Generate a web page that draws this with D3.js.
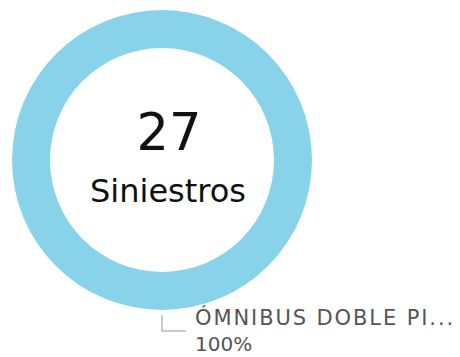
<!DOCTYPE html>
<html>
<head>
<meta charset="utf-8">
<script src="https://cdn.jsdelivr.net/npm/d3@7"></script>
<style>
  html, body { margin: 0; padding: 0; background: #fff; }
  svg { display: block; }
  text { font-family: "DejaVu Sans", "Noto Sans", sans-serif; }
</style>
</head>
<body>
<svg id="chart" width="460" height="357"></svg>
<script>
// Vehicle types involved and their claim counts
const categories = ["ÓMNIBUS DOBLE PISO"];
const values = [27];
const colors = ["#89d3ea"];
const centerLabel = "Siniestros";
const maxLabelChars = 16;

const svg = d3.select("#chart");
const cx = 162, cy = 160;
const outerR = 150, innerR = 112;

const total = d3.sum(values);
const data = categories.map((c, i) => ({ name: c, value: values[i], color: colors[i] }));

const pie = d3.pie().value(d => d.value).sort(null);
const arc = d3.arc().innerRadius(innerR).outerRadius(outerR);

const g = svg.append("g").attr("transform", `translate(${cx},${cy})`);

g.selectAll("path.slice")
  .data(pie(data))
  .join("path")
  .attr("class", "slice")
  .attr("d", arc)
  .attr("fill", d => d.data.color);

// Center total
g.append("text")
  .attr("x", 7).attr("y", -10)
  .attr("text-anchor", "middle")
  .attr("font-size", 51)
  .attr("fill", "#111")
  .text(total);

g.append("text")
  .attr("x", 6).attr("y", 42)
  .attr("text-anchor", "middle")
  .attr("font-size", 32)
  .attr("fill", "#111")
  .text(centerLabel);

// Slice label with leader line below the ring
const pct = d3.format(".0%");
const label = svg.append("g");
data.forEach((d, i) => {
  const lx = cx, ly = cy + outerR + 5;
  label.append("path")
    .attr("d", `M${lx},${ly}V${ly + 16}H${lx + 24}`)
    .attr("fill", "none")
    .attr("stroke", "#bbb")
    .attr("stroke-width", 1.5);
  const name = d.name.length > maxLabelChars ? d.name.slice(0, maxLabelChars).trimEnd() + "..." : d.name;
  label.append("text")
    .attr("x", lx + 33).attr("y", 325)
    .attr("font-size", 21)
    .attr("letter-spacing", 1.9)
    .attr("fill", "#555")
    .text(name);
  label.append("text")
    .attr("x", lx + 33).attr("y", 351)
    .attr("font-size", 20)
    .attr("fill", "#555")
    .text(pct(d.value / total));
});
</script>
</body>
</html>
